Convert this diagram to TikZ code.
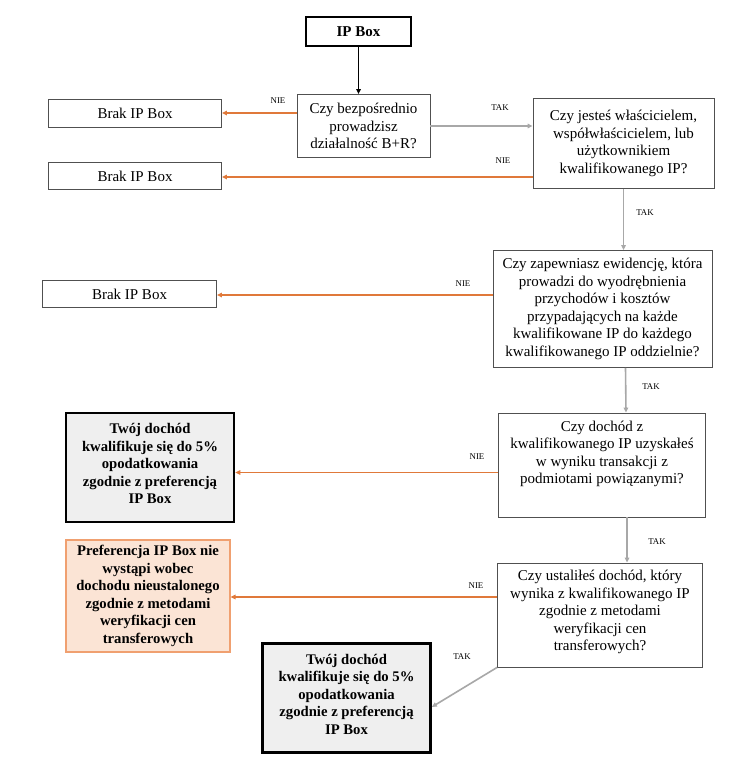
\documentclass[tikz,border=0pt]{standalone}
\usepackage{fontspec}
\setmainfont{Liberation Serif}
\usetikzlibrary{arrows.meta,calc}
\definecolor{orarrow}{HTML}{E0793A}
\definecolor{grarrow}{HTML}{A8A8A8}
\definecolor{orfill}{HTML}{FBE4D5}
\definecolor{ordraw}{HTML}{F0A070}
\definecolor{resfill}{HTML}{EFEFEF}
\definecolor{boxdraw}{HTML}{505050}
\begin{document}
\begin{tikzpicture}[x=1pt,y=-1pt,
  every node/.style={font=\fontsize{15}{17.5}\selectfont},
  qbox/.style={draw=boxdraw,line width=0.8pt,align=center,inner sep=2pt,fill=white},
  txt/.style={align=center,inner sep=0pt},
  resbox/.style={draw=black,line width=2.6pt,fill=resfill,align=center,font=\fontsize{14.7}{17.5}\selectfont\bfseries},
  obox/.style={draw=ordraw,line width=1.2pt,fill=orfill,align=center,font=\fontsize{14.7}{17.5}\selectfont\bfseries},
  lab/.style={font=\fontsize{8.8}{10}\selectfont,inner sep=1pt},
  oarr/.style={draw=orarrow,line width=1.6pt,-{Triangle[length=5pt,width=4.5pt]}},
  garr/.style={draw=grarrow,line width=1.6pt,-{Triangle[length=5pt,width=4.5pt]}},
  barr/.style={draw=black,line width=1.6pt,-{Triangle[length=5pt,width=4.5pt]}}
]
\useasboundingbox (0,0) rectangle (735,760);
\fill[white] (0,0) rectangle (735,760);
% start
\node[draw=black,line width=2.6pt,minimum width=105pt,minimum height=29pt,font=\fontsize{15}{17.5}\selectfont\bfseries] (start) at (358.5,31.5) {IP Box};
% questions
\node[qbox,minimum width=133pt,minimum height=63pt] (q1) at (363.5,126) {Czy bezpośrednio\\prowadzisz\\działalność B+R?};
\node[qbox,minimum width=181pt,minimum height=90pt] (q2) at (623.5,143.5) {Czy jesteś właścicielem,\\współwłaścicielem, lub\\użytkownikiem\\kwalifikowanego IP?};
\node[qbox,minimum width=219pt,minimum height=117pt] (q3) at (602.5,309) {Czy zapewniasz ewidencję, która\\prowadzi do wyodrębnienia\\przychodów i kosztów\\przypadających na każde\\kwalifikowane IP do każdego\\kwalifikowanego IP oddzielnie?};
\node[qbox,minimum width=207pt,minimum height=104pt] (q4) at (602,465) {};
\node[txt] (q4t) at ($(q4.center)+(0,-11)$) {Czy dochód z\\kwalifikowanego IP uzyskałeś\\w wyniku transakcji z\\podmiotami powiązanymi?};
\node[qbox,minimum width=205pt,minimum height=104pt] (q5) at (600,615) {};
\node[txt] (q5t) at ($(q5.center)+(0,-3)$) {Czy ustaliłeś dochód, który\\wynika z kwalifikowanego IP\\zgodnie z metodami\\weryfikacji cen\\transferowych?};
% outcomes
\node[qbox,minimum width=173pt,minimum height=28pt] (b1) at (135,113) {Brak IP Box};
\node[qbox,minimum width=173pt,minimum height=27pt] (b2) at (135,176) {Brak IP Box};
\node[qbox,minimum width=174pt,minimum height=27pt] (b3) at (129.5,294) {Brak IP Box};
\node[resbox,minimum width=168pt,minimum height=109pt] (r1) at (150,467.5) {};
\node[txt,font=\fontsize{14.7}{17.5}\selectfont\bfseries] (r1t) at ($(r1.center)+(0,-4)$) {Twój dochód\\kwalifikuje się do 5\%\\opodatkowania\\zgodnie z preferencją\\IP Box};
\node[obox,minimum width=164pt,minimum height=112pt] (o1) at (148,596) {Preferencja IP Box nie\\wystąpi wobec\\dochodu nieustalonego\\zgodnie z metodami\\weryfikacji cen\\transferowych};
\node[resbox,minimum width=168pt,minimum height=109pt] (r2) at (346.5,698) {};
\node[txt,font=\fontsize{14.7}{17.5}\selectfont\bfseries] (r2t) at ($(r2.center)+(0,-4)$) {Twój dochód\\kwalifikuje się do 5\%\\opodatkowania\\zgodnie z preferencją\\IP Box};
% connectors
\draw[barr] (start.south) -- (start.south |- q1.north);
\draw[oarr] (q1.west |- b1.east) -- (b1.east);
\draw[garr] (q1.east) -- (q1.east -| q2.west);
\draw[oarr] ($(q2.west |- b2.east)+(0,1)$) -- ($(b2.east)+(0,1)$);
\draw[garr] (q2.south) -- (q2.south |- q3.north);
\draw[oarr] ($(q3.west |- b3.east)+(0,1)$) -- ($(b3.east)+(0,1)$);
\draw[garr] ($(q3.south)+(23,0)$) -- ($(q4.north)+(24,0)$);
\draw[oarr] ($(q4.west |- r1.east)+(0,5)$) -- ($(r1.east)+(0,5)$);
\draw[garr] ($(q4.south)+(25,0)$) -- ($(q5.north)+(27,0)$);
\draw[oarr] ($(q5.west |- o1.east)+(0,1)$) -- ($(o1.east)+(0,1)$);
\draw[garr] (q5.south west) -- ($(r2.east)+(0,9)$);
% labels
\node[lab] (l1) at (278,101) {NIE};
\node[lab] (l2) at (500,108) {TAK};
\node[lab] (l3) at (503,161) {NIE};
\node[lab] (l4) at (645,213) {TAK};
\node[lab] (l5) at (463,284) {NIE};
\node[lab] (l6) at (651,387) {TAK};
\node[lab] (l7) at (477,457) {NIE};
\node[lab] (l8) at (657,542) {TAK};
\node[lab] (l9) at (476,586) {NIE};
\node[lab] (l10) at (462,657) {TAK};
\end{tikzpicture}
\end{document}
